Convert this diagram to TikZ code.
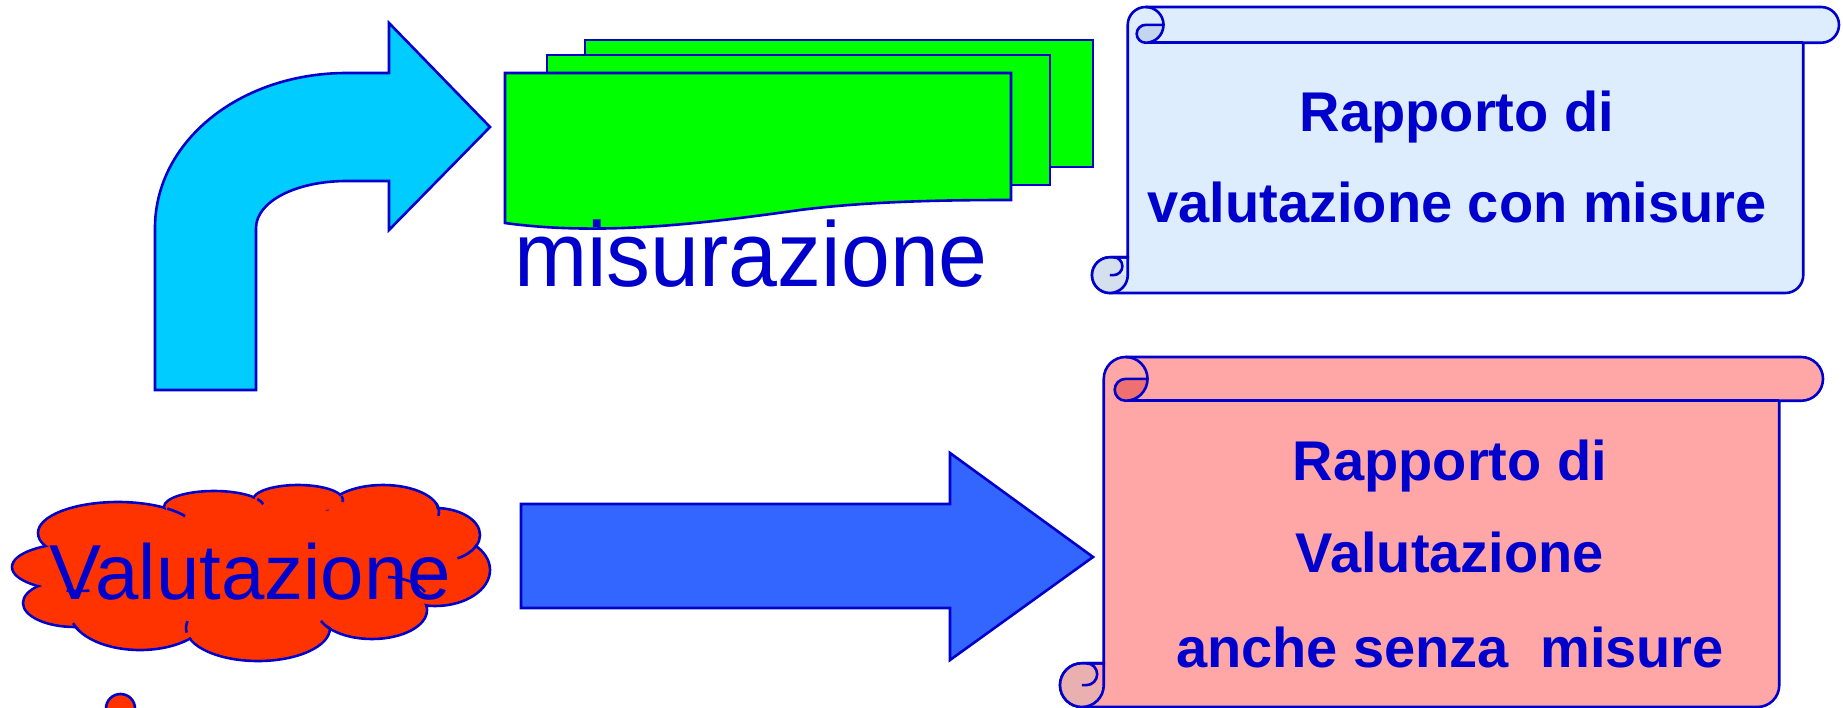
\documentclass[tikz,border=0pt]{standalone}
\usepackage{graphicx}
\usepackage{fontspec}
\setmainfont{Liberation Sans}
\definecolor{ol}{HTML}{0000CC}
\definecolor{cyanA}{HTML}{00CCFF}
\definecolor{greenD}{HTML}{00FF00}
\definecolor{blueA}{HTML}{3366FF}
\definecolor{cloudR}{HTML}{FF3300}
\definecolor{scB}{HTML}{DDEDFD}
\definecolor{scBd}{HTML}{C3D6EE}
\definecolor{scBe}{HTML}{D5E0EE}
\definecolor{scR}{HTML}{FFA6A6}
\definecolor{scRd}{HTML}{EE7070}
\definecolor{scRe}{HTML}{EAB0B0}
\tikzset{
  shp/.style={draw=ol, line width=2.6pt, line join=miter},
  lbl/.style={text=ol, font=\fontsize{56}{60}\selectfont\bfseries, anchor=base, inner sep=0pt},
  big/.style={text=ol, anchor=base, inner sep=0pt},
}
\newcommand{\drawscroll}[7]{%
  \pgfmathsetmacro{\scL}{#1}%
  \pgfmathsetmacro{\scT}{#2}%
  \pgfmathsetmacro{\scR}{#3}%
  \pgfmathsetmacro{\scBot}{#4}%
  \pgfmathsetmacro{\scC}{0.125*min(#3-#1,#4-#2)}%
  \pgfmathsetmacro{\scH}{\scC/2}%
  \pgfmathsetmacro{\scQ}{\scC/4}%
  \path[shp, fill=#5] (\scL+\scC, \scBot-\scC) -- (\scL+\scC, \scT+\scH)
     arc[start angle=180, end angle=270, radius=\scH] -- (\scR-\scH, \scT)
     arc[start angle=270, end angle=450, radius=\scH] -- (\scR-\scC, \scT+\scC)
     -- (\scR-\scC, \scBot-\scH) arc[start angle=0, end angle=90, radius=\scH]
     -- (\scL+\scH, \scBot) arc[start angle=90, end angle=270, radius=\scH] -- cycle;
  \draw[shp] (\scR-\scC, \scT+\scC) -- (\scL+\scC+\scH, \scT+\scC);
  \path[shp, fill=#6] (\scL+\scC+\scH, \scT+\scH) -- (\scL+2*\scC, \scT+\scH)
     arc[start angle=0, end angle=90, radius=\scH]
     arc[start angle=90, end angle=270, radius=\scQ] -- cycle;
  \draw[shp] (\scL+\scC+\scH, \scT) arc[start angle=270, end angle=360, radius=\scH];
  \fill[#7] (\scL+\scH, \scBot-\scC) arc[start angle=270, end angle=90, radius=\scH]
     arc[start angle=90, end angle=0, radius=\scH] -- (\scL+\scH+0.4*\scQ, \scBot-\scH)
     arc[start angle=90, end angle=-90, radius=\scQ] -- cycle;
  \draw[shp] (\scL+\scH, \scBot-\scC) arc[start angle=270, end angle=90, radius=\scH]
     arc[start angle=90, end angle=0, radius=\scH] -- (\scL+\scC, \scBot-\scC) -- (\scL+\scH, \scBot-\scC);
  \draw[shp] (\scL+\scH, \scBot-\scH) -- (\scL+\scH+0.4*\scQ, \scBot-\scH)
     arc[start angle=90, end angle=-90, radius=\scQ];
}
\begin{document}
\begin{tikzpicture}[x=1pt, y=-1pt]
\useasboundingbox (0,0) rectangle (1843,708);

% bent arrow
\path[shp, fill=cyanA] (155,390) -- (155,228) .. controls (155,142) and (239,73) .. (347,73)
  -- (389,73) -- (389,23) -- (490,127) -- (389,230) -- (389,181) -- (347,181)
  .. controls (295,181) and (256,202) .. (256,228) -- (256,390) -- cycle;

% stacked documents
\path[shp, fill=greenD] (585,40) rectangle (1093,167);
\path[shp, fill=greenD] (547,55) rectangle (1050,185);
\path[shp, fill=greenD] (505,223) -- (505,73) -- (1011,73) -- (1011,200)
  .. controls (950,200) and (870,201) .. (800,210)
  .. controls (700,224) and (600,236) .. (505,223) -- cycle;
\node[big] (mis) at (751,287) {\fontsize{92}{100}\selectfont\scalebox{0.955}[1]{misurazione}};

% top scroll
\drawscroll{1092}{7}{1839}{293}{scB}{scBd}{scBe}
\node[lbl] (r1a) at (1457,132) {Rapporto di};
\node[lbl] (r1b) at (1457,223) {valutazione con misure};

% big arrow
\path[shp, fill=blueA] (521,504) -- (950,504) -- (950,453) -- (1093,557) -- (950,660)
  -- (950,608) -- (521,608) -- cycle;

% bottom scroll
\drawscroll{1060}{357}{1823}{707}{scR}{scRd}{scRe}
\node[lbl] (r2a) at (1450,480) {Rapporto di};
\node[lbl] (r2b) at (1450,572) {Valutazione};
\node[lbl] (r2c) at (1450,667) {anche senza\ \ misure};

% cloud
\foreach \cx/\cy/\rx/\ry in {118/533/80/31, 214/507/50/16, 298/500/45/15, 383/512/56/27,
   435/535/45/27, 435/570/55/36, 372/610/55/29, 258/628/72/33, 140/612/70/38,
   75/603/52/24, 78/567/66/24} {
  \path[shp, fill=cloudR] (\cx,\cy) ellipse[x radius=\rx, y radius=\ry];
}
\foreach \cx/\cy/\rx/\ry in {118/533/80/31, 214/507/50/16, 298/500/45/15, 383/512/56/27,
   435/535/45/27, 435/570/55/36, 372/610/55/29, 258/628/72/33, 140/612/70/38,
   75/603/52/24, 78/567/66/24} {
  \fill[cloudR] (\cx,\cy) ellipse[x radius=\rx-1.7, y radius=\ry-1.7];
}
\fill[cloudR] (250,570) ellipse[x radius=190, y radius=55];
\fill[cloudR] (250,545) ellipse[x radius=150, y radius=40];
\draw[shp] (118,533) ++(-52:80 and 31) arc[start angle=-52, end angle=-33, x radius=80, y radius=31];
\draw[shp] (214,507) ++(-30:50 and 16) arc[start angle=-30, end angle=-10, x radius=50, y radius=16];
\draw[shp] (298,500) ++(-15:45 and 15) arc[start angle=-15, end angle=8, x radius=45, y radius=15];
\draw[shp] (383,512) ++(-20:56 and 27) arc[start angle=-20, end angle=8, x radius=56, y radius=27];
\draw[shp] (435,535) ++(25:45 and 27) arc[start angle=25, end angle=60, x radius=45, y radius=27];
\draw[shp] (388,577) .. controls (405,578) and (418,583) .. (425,592);
\draw[shp] (372,610) ++(140:55 and 29) arc[start angle=140, end angle=158, x radius=55, y radius=29];
\draw[shp] (258,628) ++(172:72 and 33) arc[start angle=172, end angle=192, x radius=72, y radius=33];
\draw[shp] (140,612) ++(150:70 and 38) arc[start angle=150, end angle=163, x radius=70, y radius=38];
\draw[shp] (78,567) ++(80:66 and 24) arc[start angle=80, end angle=100, x radius=66, y radius=24];
\node[big] (val) at (250,599) {\fontsize{78}{84}\selectfont Valutazione};
\path[shp, fill=cloudR] (120.5,708.5) circle[radius=14.5];
\end{tikzpicture}
\end{document}
